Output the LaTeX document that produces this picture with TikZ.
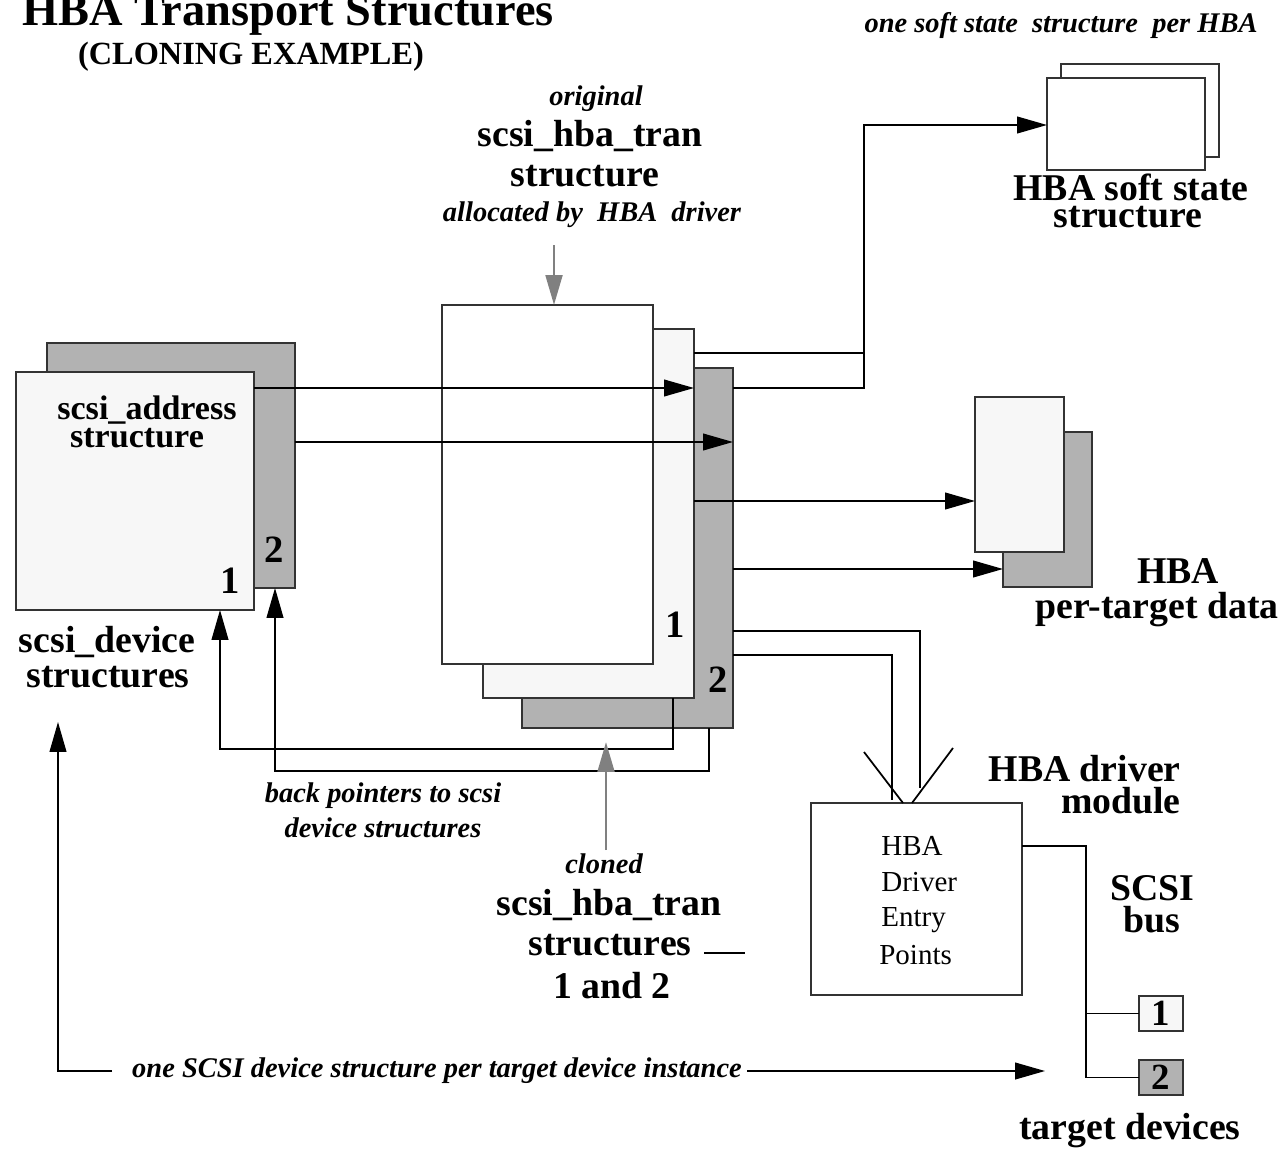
\documentclass[tikz,border=0pt]{standalone}
\usepackage{fontspec}
\setmainfont{Liberation Serif}
\usetikzlibrary{arrows.meta, positioning}

\begin{document}
\begin{tikzpicture}[x=0.02cm, y=-0.02cm,
    box/.style={draw=black!80, line width=1pt, inner sep=0pt, outer sep=0pt, anchor=north west},
    pale/.style={box, fill=black!3},
    dark/.style={box, fill=black!30},
    blank/.style={box, fill=white},
    wire/.style={line width=1pt},
    ptr/.style={line width=1pt, -{Triangle[length=17pt, width=9.5pt]}},
    gptr/.style={draw=black!50, line width=1.6pt, -{Triangle[length=17pt, width=9.5pt]}},
    ttl/.style={font=\fontsize{26.4}{30}\selectfont\bfseries, inner sep=0pt, anchor=base},
    sub/.style={font=\fontsize{18.4}{21}\selectfont\bfseries, inner sep=0pt, anchor=base},
    big/.style={font=\fontsize{21.5}{24}\selectfont\bfseries, inner sep=0pt, anchor=base},
    mid/.style={font=\fontsize{19.4}{22}\selectfont\bfseries, inner sep=0pt, anchor=base},
    num/.style={font=\fontsize{22}{24}\selectfont\bfseries, inner sep=0pt, anchor=base},
    ital/.style={font=\fontsize{16.2}{18}\selectfont\bfseries\itshape, inner sep=0pt, anchor=base},
    txt/.style={font=\fontsize{16.5}{19}\selectfont, inner sep=0pt, anchor=base west}]
    \useasboundingbox (0,0) rectangle (1287,1152);

    % titles
    \node[ttl] (title) at (288,26) {HBA Transport Structures};
    \node[sub] (subtitle) at (251,65) {(CLONING EXAMPLE)};

    % scsi_device structures
    \node[dark, minimum width=4.96cm, minimum height=4.90cm] (devB) at (47,343) {};
    \node[pale, minimum width=4.76cm, minimum height=4.76cm] (devA) at (16,372) {};
    \node[num] (devBn) at (274,562) {2};
    \node[num] (devAn) at (230,593) {1};
    \node[mid] (addr1) at (147,419) {scsi\_address};
    \node[mid] (addr2) at (137,447) {structure};
    \node[big] (devL1) at (107,652) {scsi\_device};
    \node[big] (devL2) at (108,687) {structures};

    % scsi_hba_tran structures
    \node[dark, minimum width=4.22cm, minimum height=7.20cm] (tranB) at (522,368) {};
    \node[pale, minimum width=4.22cm, minimum height=7.38cm] (tranA) at (483,329) {};
    \node[blank, minimum width=4.22cm, minimum height=7.18cm] (tranO) at (442,305) {};
    \node[num] (tranAn) at (675,637) {1};
    \node[num] (tranBn) at (718,692) {2};
    \node[ital] (orgL1) at (596,106) {original};
    \node[big] (orgL2) at (590,147) {scsi\_hba\_tran};
    \node[big] (orgL3) at (585,187) {structure};
    \node[ital] (orgL4) at (592,221) {allocated by\ \ HBA\ \ driver};
    \node[ital] (clnL1) at (604,873) {cloned};
    \node[big] (clnL2) at (609,915) {scsi\_hba\_tran};
    \node[big] (clnL3) at (610,955) {structures};
    \node[big] (clnL4) at (612,998) {1 and 2};
    \node[ital] (backL1) at (383,802) {back pointers to scsi};
    \node[ital] (backL2) at (383,837) {device structures};

    % soft state
    \node[ital] (softL0) at (1061,33) {one soft state\ \ structure\ \ per HBA};
    \node[blank, minimum width=3.16cm, minimum height=1.86cm] (softB) at (1061,64) {};
    \node[blank, minimum width=3.16cm, minimum height=1.84cm] (softA) at (1047,78) {};
    \node[big] (softL1) at (1131,200) {HBA soft state};
    \node[big] (softL2) at (1128,228) {structure};

    % per-target data
    \node[dark, minimum width=1.78cm, minimum height=3.10cm] (tgtB) at (1003,432) {};
    \node[pale, minimum width=1.78cm, minimum height=3.10cm] (tgtA) at (975,397) {};
    \node[big] (tgtL1) at (1178,583) {HBA};
    \node[big] (tgtL2) at (1157,618) {per-target data};

    % driver module
    \node[blank, minimum width=4.22cm, minimum height=3.84cm] (drv) at (811,803) {};
    \node[txt] (drvT1) at (881,855) {HBA};
    \node[txt] (drvT2) at (881,891) {Driver};
    \node[txt] (drvT3) at (881,926) {Entry};
    \node[txt] (drvT4) at (879,964) {Points};
    \node[big, anchor=base east] (drvL1) at (1181,781) {HBA driver};
    \node[big, anchor=base east] (drvL2) at (1181,813) {module};

    % bus and targets
    \node[pale, minimum width=0.88cm, minimum height=0.70cm, font=\fontsize{21}{24}\selectfont\bfseries] (dev1) at (1139,996) {1};
    \node[dark, minimum width=0.88cm, minimum height=0.70cm, font=\fontsize{21}{24}\selectfont\bfseries, below=0.58cm of dev1] (dev2) {2};
    \node[big] (busL1) at (1152,900) {SCSI};
    \node[big] (busL2) at (1152,932) {bus};
    \node[big] (devsL) at (1130,1139) {target devices};
    \node[ital] (instL) at (437,1077) {one SCSI device structure per target device instance};

    % pointers
    \draw[ptr] (devA.east |- 0,388) -- (tranA.east |- 0,388);
    \draw[ptr] (devB.east |- 0,442) -- (tranB.east |- 0,442);
    \coordinate (sj) at (864,125);
    \draw[wire] (tranA.east |- 0,353) -- (sj |- 0,353);
    \draw[ptr] (tranB.east |- 0,388) -| (sj) -- (softA.west |- sj);
    \draw[ptr] (tranA.east |- 0,501) -- (tgtA.west |- 0,501);
    \draw[ptr] (tranB.east |- 0,569) -- (tgtB.west |- 0,569);

    % into the driver
    \coordinate (drvIn1) at (920,788);
    \coordinate (drvIn2) at (892,800);
    \draw[wire] (tranB.east |- 0,631) -| (drvIn1);
    \draw[wire] (tranB.east |- 0,655) -| (drvIn2);
    \coordinate (vL) at (864,752);
    \coordinate (vR) at (953,748);
    \draw[wire] (vL) -- (drv.north -| 903,0);
    \draw[wire] (vR) -- (drv.north -| 912,0);

    % back pointers
    \coordinate (bp1) at (673,749);
    \coordinate (bp1l) at (220,749);
    \draw[ptr] (tranA.south -| bp1) -- (bp1) -- (bp1l) -- (devA.south -| bp1l);
    \coordinate (bp2) at (709,771);
    \coordinate (bp2l) at (275,771);
    \draw[ptr] (tranB.south -| bp2) -- (bp2) -- (bp2l) -- (devB.south -| bp2l);

    % gray arrows
    \coordinate (origTail) at (554,245);
    \draw[gptr] (origTail) -- (tranO.north -| origTail);
    \coordinate (clTail) at (606,850);
    \coordinate (clTip) at (606,742);
    \draw[gptr] (clTail) -- (clTip);
    \coordinate (dashL) at (704,953);
    \draw[wire] (dashL) -- ++(41,0);

    % one per target
    \coordinate (instW) at (112,1071);
    \coordinate (devTip) at (58,722);
    \draw[ptr] (instW) -| (devTip);
    \coordinate (instE) at (747,1071);
    \coordinate (tgtTip) at (1045,1071);
    \draw[ptr] (instE) -- (tgtTip);

    % SCSI bus
    \coordinate (busTop) at (1086,846);
    \draw[wire] (drv.east |- busTop) -- (busTop) |- (dev2.west);
    \draw[wire] (busTop |- dev1.west) -- (dev1.west);
\end{tikzpicture}
\end{document}
